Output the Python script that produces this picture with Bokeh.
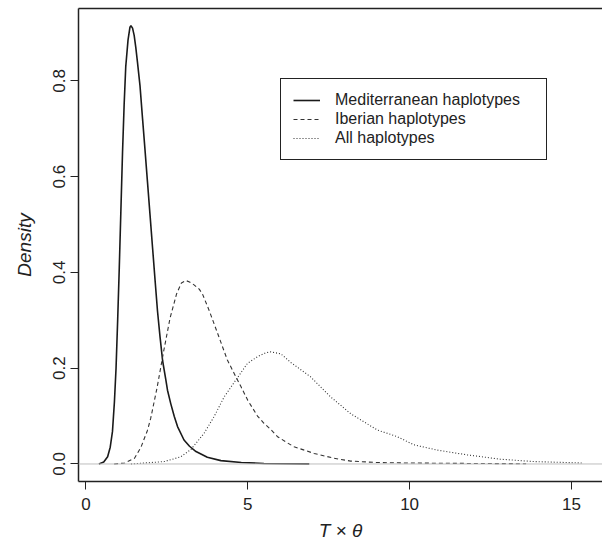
from bokeh.plotting import figure
from bokeh.models import Range1d, Span, Legend, LegendItem, LinearAxis, FixedTicker
from bokeh.embed import file_html
from bokeh.resources import INLINE

# --- data ---
med_x = [0.40, 0.55, 0.67, 0.75, 0.82, 0.88, 0.93, 0.98, 1.03, 1.08, 1.13, 1.18, 1.23, 1.30,
         1.36, 1.39, 1.44, 1.49, 1.54, 1.59, 1.67, 1.75, 1.82, 1.90, 1.98, 2.06, 2.14, 2.21,
         2.29, 2.37, 2.47, 2.52, 2.62, 2.73, 2.83, 3.03, 3.20, 3.40, 3.75, 4.17, 4.80, 5.50,
         6.20, 6.90]
med_y = [0.000, 0.004, 0.015, 0.035, 0.068, 0.130, 0.200, 0.300, 0.410, 0.530, 0.650, 0.750,
         0.830, 0.885, 0.912, 0.915, 0.910, 0.895, 0.870, 0.840, 0.790, 0.720, 0.660, 0.590,
         0.520, 0.450, 0.380, 0.320, 0.265, 0.215, 0.175, 0.154, 0.126, 0.099, 0.078, 0.050,
         0.037, 0.026, 0.014, 0.007, 0.003, 0.001, 0.0005, 0.0003]

ib_x = [0.87, 1.20, 1.50, 1.70, 1.90, 2.00, 2.20, 2.40, 2.60, 2.80, 2.95, 3.09, 3.20, 3.34,
        3.50, 3.60, 3.81, 4.11, 4.37, 4.58, 4.80, 5.00, 5.30, 5.50, 5.71, 5.92, 6.20, 6.43,
        7.05, 7.66, 8.18, 9.00, 10.00, 11.00, 12.00, 13.60]
ib_y = [0.000, 0.002, 0.012, 0.035, 0.070, 0.095, 0.160, 0.235, 0.305, 0.355, 0.378, 0.383,
        0.380, 0.374, 0.365, 0.355, 0.320, 0.265, 0.217, 0.189, 0.160, 0.133, 0.100, 0.085,
        0.072, 0.057, 0.045, 0.036, 0.022, 0.012, 0.006, 0.003, 0.002, 0.0015, 0.001, 0.0005]

all_x = [1.39, 2.42, 2.93, 3.24, 3.65, 3.96, 4.27, 4.68, 4.99, 5.30, 5.55, 5.71, 6.02, 6.33,
         6.94, 7.56, 8.18, 9.00, 9.62, 10.13, 10.85, 11.78, 12.80, 13.84, 15.38]
all_y = [0.000, 0.005, 0.015, 0.030, 0.064, 0.099, 0.140, 0.180, 0.210, 0.224, 0.232, 0.234,
         0.230, 0.212, 0.182, 0.140, 0.105, 0.071, 0.057, 0.040, 0.029, 0.019, 0.010, 0.005,
         0.002]

x_ticks = [0, 5, 10, 15]
y_ticks = [0.0, 0.2, 0.4, 0.6, 0.8]
y_tick_labels = {0.0: "0.0", 0.2: "0.2", 0.4: "0.4", 0.6: "0.6", 0.8: "0.8"}
series_names = ["Mediterranean haplotypes", "Iberian haplotypes", "All haplotypes"]
x_title = "T × θ"
y_title = "Density"

FONT = "Liberation Sans"

p = figure(width=602, height=544, output_backend="svg", toolbar_location=None,
           x_range=Range1d(-0.23, 15.96), y_range=Range1d(-0.0366, 0.951),
           min_border_left=78, min_border_right=0, min_border_top=8, min_border_bottom=63)
p.outline_line_color = None
p.grid.visible = False
p.background_fill_color = "white"

# zero line
p.add_layout(Span(location=0, dimension="width", line_color="#bdbdbd", line_width=1))

r1 = p.line(med_x, med_y, line_color="#1a1a1a", line_width=1.6)
r2 = p.line(ib_x, ib_y, line_color="#333333", line_width=1.1, line_dash="4 3")
r3 = p.line(all_x, all_y, line_color="#333333", line_width=1.1, line_dash="1 2")

# axes
xa = p.xaxis[0]
xa.ticker = FixedTicker(ticks=x_ticks)
xa.axis_label = x_title
ya = p.yaxis[0]
ya.ticker = FixedTicker(ticks=y_ticks)
ya.major_label_overrides = y_tick_labels
ya.major_label_orientation = "vertical"
ya.axis_label = y_title
for ax in (xa, ya):
    ax.axis_line_color = "#222222"
    ax.axis_line_width = 1.5
    ax.major_tick_line_color = "#222222"
    ax.major_tick_line_width = 1
    ax.major_tick_out = 8
    ax.major_tick_in = 0
    ax.minor_tick_line_color = None
    ax.major_label_text_font = FONT
    ax.major_label_text_font_size = "17px"
    ax.major_label_text_color = "#222222"
    ax.axis_label_text_font = FONT
    ax.axis_label_text_font_size = "19px"
    ax.axis_label_text_font_style = "italic"
    ax.axis_label_text_color = "#222222"
xa.major_label_standoff = 8
xa.axis_label_standoff = 7
ya.major_label_standoff = 5
ya.axis_label_standoff = 16

top = LinearAxis(ticker=FixedTicker(ticks=[]), major_label_text_font_size="0px",
                 axis_line_color="#222222", axis_line_width=1.5,
                 major_tick_line_color=None, minor_tick_line_color=None)
p.add_layout(top, "above")

legend = Legend(items=[LegendItem(label=series_names[0], renderers=[r1]),
                       LegendItem(label=series_names[1], renderers=[r2]),
                       LegendItem(label=series_names[2], renderers=[r3])],
                location=(202, 321), margin=0, padding=12, spacing=1,
                glyph_width=27, glyph_height=18, label_height=18, label_width=199,
                label_standoff=15, label_text_font=FONT, label_text_font_size="16px",
                label_text_color="#222222", border_line_color="#222222",
                border_line_width=1.5, border_line_alpha=1.0,
                background_fill_color="white", background_fill_alpha=1.0)
p.add_layout(legend, "center")

open("out.html", "w").write(file_html(p, INLINE))
